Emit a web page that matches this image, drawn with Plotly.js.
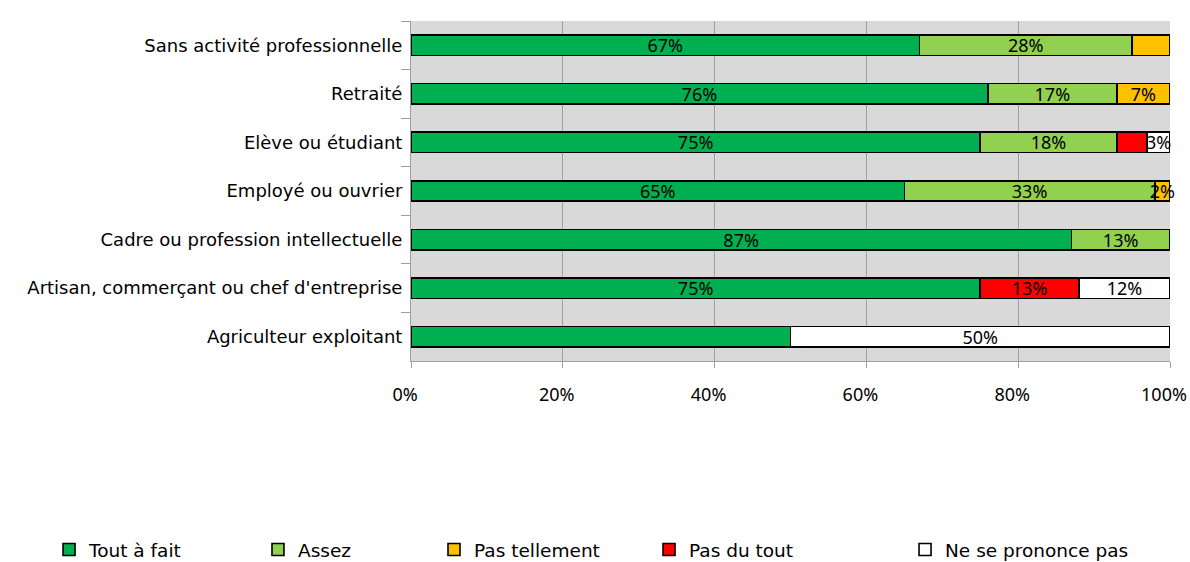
<!DOCTYPE html>
<html>
<head>
<meta charset="utf-8">
<script src="https://cdn.plot.ly/plotly-3.0.1.min.js"></script>
<style>html,body{margin:0;padding:0;background:#fff;}#chart{width:1190px;height:562px;}</style>
</head>
<body>
<div id="chart"></div>
<script>
const categories = [
  "Sans activité professionnelle",
  "Retraité",
  "Elève ou étudiant",
  "Employé ou ouvrier",
  "Cadre ou profession intellectuelle",
  "Artisan, commerçant ou chef d'entreprise",
  "Agriculteur exploitant"
];
const seriesNames = ["Tout à fait", "Assez", "Pas tellement", "Pas du tout", "Ne se prononce pas"];
const toutAFait     = [67, 76, 75, 65, 87, 75, 50];
const assez         = [28, 17, 18, 33, 13, 0, 0];
const pasTellement  = [5, 7, 0, 2, 0, 0, 0];
const pasDuTout     = [0, 0, 4, 0, 0, 13, 0];
const nePrononcePas = [0, 0, 3, 0, 0, 12, 50];
// which data labels are shown in the original
const showToutAFait     = [true, true, true, true, true, true, false];
const showAssez         = [true, true, true, true, true, false, false];
const showPasTellement  = [false, true, false, true, false, false, false];
const showPasDuTout     = [false, false, false, false, false, true, false];
const showNePrononcePas = [false, false, true, false, false, true, true];
const xTickVals  = [0, 20, 40, 60, 80, 100];
const xTickText  = ["0%", "20%", "40%", "60%", "80%", "100%"];
const colors = ["#00b050", "#92d050", "#ffc000", "#ff0000", "#ffffff"];

const allValues = [toutAFait, assez, pasTellement, pasDuTout, nePrononcePas];
const allShow = [showToutAFait, showAssez, showPasTellement, showPasDuTout, showNePrononcePas];
const FONT = "Noto Sans, Open Sans, sans-serif";
const WIDE = "DejaVu Sans, sans-serif";
const NARROW = "Liberation Sans Narrow, Noto Sans, sans-serif";

// one legend box per series so each entry sits where the original puts it
const legendIds = ["legend", "legend2", "legend3", "legend4", "legend5"];
const legendX = [-0.4769, -0.2016, 0.0303, 0.3136, 0.6509];

const traces = allValues.map((vals, i) => ({
  type: "bar",
  orientation: "h",
  name: seriesNames[i],
  legend: legendIds[i],
  y: categories,
  x: vals.map(v => v > 0 ? v : null),
  text: vals.map((v, j) => (v > 0 && allShow[i][j]) ? v + "%" : ""),
  textposition: "inside",
  insidetextanchor: "middle",
  constraintext: "none",
  textangle: 0,
  cliponaxis: false,
  textfont: {family: NARROW, size: 18, color: "#000"},
  marker: {color: colors[i], line: {color: "#000", width: 1.6}},
  hoverinfo: "name+x"
}));

const layout = {
  width: 1190, height: 562,
  barmode: "stack",
  bargap: 0.58,
  paper_bgcolor: "#ffffff",
  plot_bgcolor: "#d9d9d9",
  margin: {l: 411, r: 20, t: 21, b: 201, autoexpand: false},
  font: {family: FONT, size: 16, color: "#000"},
  xaxis: {
    range: [0, 100],
    tickvals: xTickVals,
    ticktext: xTickText,
    showgrid: true, gridcolor: "#a0a0a0", gridwidth: 1,
    zeroline: false,
    ticks: "outside", ticklen: 6, tickcolor: "#a0a0a0",
    showline: true, linecolor: "#a0a0a0",
    ticklabelstandoff: 11,
    ticklabelshift: -6,
    ticklabeloverflow: "allow",
    tickfont: {family: FONT, size: 18, color: "#000"},
    fixedrange: true
  },
  yaxis: {
    type: "category",
    autorange: "reversed",
    showline: true, linecolor: "#a0a0a0",
    ticks: "outside", tickson: "boundaries", ticklen: 9, tickcolor: "#a0a0a0",
    ticklabelstandoff: 4,
    tickfont: {family: WIDE, size: 18, color: "#000"},
    fixedrange: true
  },
  showlegend: true
};
legendIds.forEach((id, i) => {
  layout[id] = {
    orientation: "h",
    x: legendX[i], xanchor: "left",
    y: -0.556, yanchor: "middle",
    itemwidth: 30,
    font: {family: WIDE, size: 18.5, color: "#000"},
    bgcolor: "rgba(0,0,0,0)"
  };
});

Plotly.newPlot("chart", traces, layout, {displayModeBar: false, staticPlot: true});
</script>
</body>
</html>
